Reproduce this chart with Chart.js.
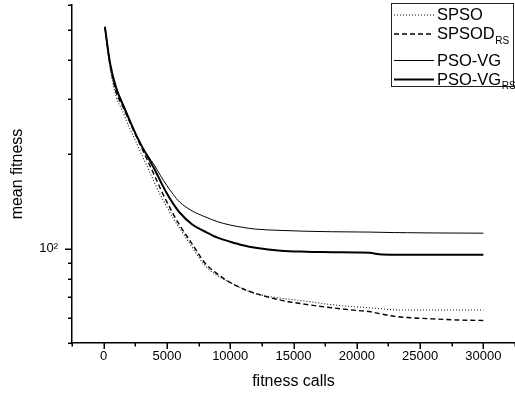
<!DOCTYPE html>
<html>
<head>
<meta charset="utf-8">
<script src="https://cdn.jsdelivr.net/npm/chart.js@4.4.1/dist/chart.umd.min.js"></script>
<style>
html,body{margin:0;padding:0;background:#fff;}
#wrap{width:515px;height:397px;}
</style>
</head>
<body>
<div id="wrap"><canvas id="c" width="515" height="397"></canvas></div>
<script>
// fitness calls (x)
const fitnessCalls = [100, 500, 1000, 1500, 2000, 2500, 3000, 3500, 4000, 4500, 5000, 5500, 6000, 7000, 8000, 9000, 10000, 11000, 12000, 14000, 16000, 18000, 20000, 21000, 22000, 23000, 24000, 26000, 28000, 30000];
// mean fitness series
const spso     = [511, 380, 305, 275, 245, 222, 200, 181, 163, 148, 136, 125, 116.5, 101, 88.5, 82, 78, 74.5, 71.8, 69.5, 68, 66.3, 65.2, 64.8, 64.3, 63.8, 63.7, 63.7, 63.7, 63.7];
const spsodRS  = [511, 388, 315, 285, 257, 232, 210, 190, 172, 155, 141, 129, 119, 103.5, 90, 83, 78, 74.5, 72, 68.5, 66.4, 64.8, 63.5, 63, 61.8, 60.8, 60.3, 59.7, 59.2, 59];
const psoVG    = [511, 392, 325, 290, 260, 234, 213, 198, 185, 171, 159, 149, 141, 132, 126.5, 122, 119, 117, 115.5, 114.4, 113.7, 113.3, 113.1, 113, 112.8, 112.6, 112.5, 112.3, 112.2, 112.1];
const psoVGRS  = [511, 392, 325, 290, 260, 234, 213, 196, 180, 164, 150, 139, 130.5, 119.5, 113.5, 108.5, 105.3, 102.6, 100.7, 98.5, 97.8, 97.5, 97.2, 97.0, 95.8, 95.7, 95.7, 95.7, 95.7, 95.7];
// ticks
const xMajorTicks = [0, 5000, 10000, 15000, 20000, 25000, 30000];
const xMinorTicks = [-2500, 2500, 7500, 12500, 17500, 22500, 27500, 32500];
const yTicks = [50, 60, 70, 80, 90, 100, 200, 300, 400, 500, 600];
const yMajorTicks = [100];
const yTickLabels = {100: '10²'};
const legendNames = [['SPSO',''], ['SPSOD','RS'], ['PSO-VG',''], ['PSO-VG','RS']];

const FONT = '"Liberation Sans", Arial, sans-serif';
const pts = arr => arr.map((v, i) => ({x: fitnessCalls[i], y: v}));

const styles = [
  {borderWidth: 1.1, borderDash: [1, 2], borderColor: '#111'},
  {borderWidth: 1.4, borderDash: [5, 3], borderColor: '#000'},
  {borderWidth: 1, borderDash: [], borderColor: '#000'},
  {borderWidth: 2, borderDash: [], borderColor: '#000'}
];
const series = [spso, spsodRS, psoVG, psoVGRS];

const tickPlugin = {
  id: 'ticks',
  afterDraw(chart) {
    const ctx = chart.ctx, xs = chart.scales.x, ys = chart.scales.y;
    const ca = chart.chartArea;
    ctx.save();
    ctx.strokeStyle = '#000';
    ctx.lineWidth = 1.5;
    ctx.beginPath();
    yTicks.forEach(v => {
      const y = Math.round(ys.getPixelForValue(v)) + 0.25;
      const len = yMajorTicks.includes(v) ? 7 : 4;
      ctx.moveTo(ca.left, y); ctx.lineTo(ca.left - len, y);
    });
    xMajorTicks.forEach(v => {
      const x = Math.round(xs.getPixelForValue(v)) + 0.25;
      ctx.moveTo(x, ca.bottom); ctx.lineTo(x, ca.bottom + 6);
    });
    xMinorTicks.forEach(v => {
      const x = Math.round(xs.getPixelForValue(v)) + 0.25;
      ctx.moveTo(x, ca.bottom); ctx.lineTo(x, ca.bottom + 3.5);
    });
    ctx.stroke();

    // legend box
    const bx = 391.5, by = 3.5, bw = 122, bh = 83;
    ctx.fillStyle = '#fff';
    ctx.fillRect(bx, by, bw, bh);
    ctx.lineWidth = 1;
    ctx.strokeStyle = '#222';
    ctx.strokeRect(bx, by, bw, bh);
    const rowsY = [15, 34, 60.5, 79.5];
    legendNames.forEach((nm, i) => {
      const st = styles[i];
      const y = rowsY[i];
      ctx.beginPath();
      ctx.lineWidth = st.borderWidth;
      ctx.strokeStyle = st.borderColor;
      ctx.setLineDash(st.borderDash);
      ctx.moveTo(394, y); ctx.lineTo(434, y);
      ctx.stroke();
      ctx.setLineDash([]);
      ctx.fillStyle = '#000';
      ctx.textBaseline = 'middle';
      ctx.textAlign = 'left';
      ctx.font = '16.5px ' + FONT;
      ctx.fillText(nm[0], 437, y + 0.5);
      if (nm[1]) {
        const w = ctx.measureText(nm[0]).width;
        ctx.font = '10px ' + FONT;
        ctx.fillText(nm[1], 437 + w + 0.5, y + 7);
      }
    });
    ctx.restore();
  }
};

new Chart(document.getElementById('c'), {
  type: 'line',
  data: {
    datasets: series.map((s, i) => Object.assign({
      label: legendNames[i].join(''),
      data: pts(s),
      pointRadius: 0,
      fill: false,
      cubicInterpolationMode: 'monotone'
    }, styles[i]))
  },
  options: {
    responsive: false,
    animation: false,
    devicePixelRatio: 1,
    layout: {padding: {top: 5, right: 0, left: 0, bottom: 0}},
    plugins: {legend: {display: false}, tooltip: {enabled: false}},
    scales: {
      x: {
        type: 'linear',
        min: -2500, max: 32500,
        afterBuildTicks: s => { s.ticks = xMajorTicks.map(v => ({value: v})); },
        afterFit: s => { s.height = 54; s.paddingLeft = 0; s.paddingRight = 0; s.paddingTop = 0; s.paddingBottom = 0; },
        ticks: {autoSkip: false, maxRotation: 0, padding: 6, color: '#000', font: {family: FONT, size: 13},
          callback: v => String(v)},
        grid: {display: false, drawTicks: false},
        border: {display: true, color: '#000', width: 1.5},
        title: {display: true, text: 'fitness calls', color: '#000', font: {family: FONT, size: 16}, padding: {top: 0, bottom: 6}}
      },
      y: {
        type: 'logarithmic',
        min: 50, max: 600,
        afterBuildTicks: s => { s.ticks = yMajorTicks.map(v => ({value: v})); },
        afterFit: s => { s.width = 72; s.paddingLeft = 0; s.paddingRight = 0; s.paddingTop = 0; s.paddingBottom = 0; },
        ticks: {autoSkip: false, padding: 14, color: '#000', font: {family: FONT, size: 13},
          callback: v => yTickLabels[v] || ''},
        grid: {display: false, drawTicks: false},
        border: {display: true, color: '#000', width: 1.5},
        title: {display: true, text: 'mean fitness', color: '#000', font: {family: FONT, size: 16}, padding: {top: 8, bottom: 0}}
      }
    }
  },
  plugins: [tickPlugin]
});
</script>
</body>
</html>
